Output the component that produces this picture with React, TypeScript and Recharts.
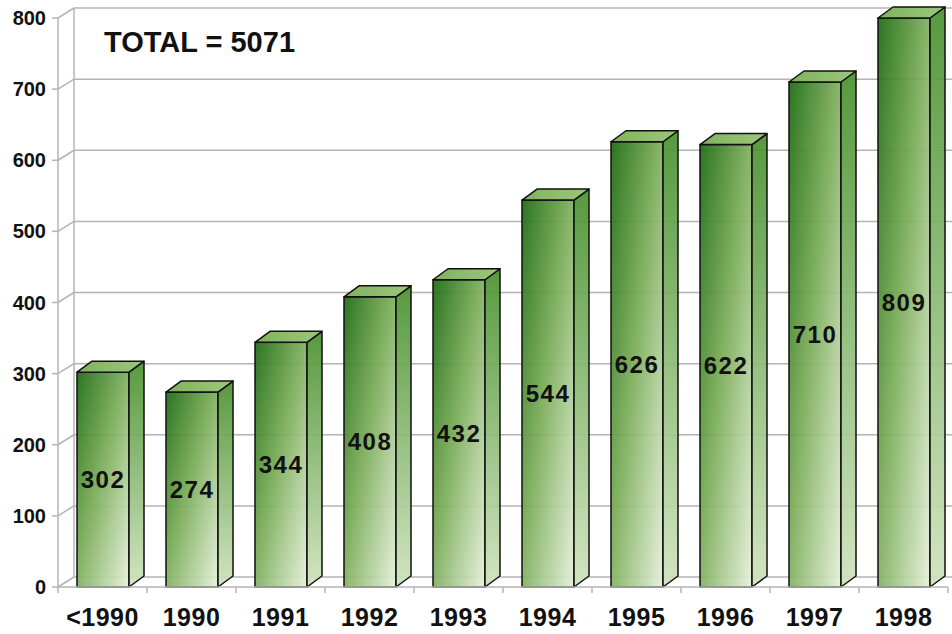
import React from 'react';
import { BarChart, Bar, XAxis, YAxis, CartesianGrid } from 'recharts';

const years = ['<1990', '1990', '1991', '1992', '1993', '1994', '1995', '1996', '1997', '1998'];
const counts = [302, 274, 344, 408, 432, 544, 626, 622, 710, 809];
const yTicks = [0, 100, 200, 300, 400, 500, 600, 700, 800];
const yMax = 800;
const totalLabel = 'TOTAL = 5071';

const data = years.map((year, i) => ({ year, count: counts[i] }));

const W = 952;
const H = 634;
const LEFT = 58;
const RIGHT = 4;
const TOP = 18;
const X_AXIS_H = 47;
const BAND = (W - LEFT - RIGHT) / years.length;
const DX = 15;
const DY = 11;
const WALL_DX = 16;
const WALL_DY = 10;
const GRID = '#b4b4b4';
const FONT = '"Liberation Sans", Arial, sans-serif';

// bars above the axis max are cut at the top like the original chart
const barValue = (d: { count: number }) => Math.min(d.count, yMax);

const Bar3D = (props: any) => {
  const { x, y, width, height, payload } = props;
  const bottom = y + height;
  const top = y;
  const r = x + width;
  return (
    <g>
      <rect x={x} y={top} width={width} height={bottom - top} fill="url(#frontGrad)" fillOpacity={0.93} stroke="#111" strokeWidth={1.5} />
      <polygon
        points={`${r},${top} ${r + DX},${top - DY} ${r + DX},${bottom - DY} ${r},${bottom}`}
        fill="url(#sideGrad)"
        fillOpacity={0.93}
        stroke="#111"
        strokeWidth={1.5}
        strokeLinejoin="round"
      />
      <polygon
        points={`${x},${top} ${x + DX},${top - DY} ${r + DX},${top - DY} ${r},${top}`}
        fill="url(#topGrad)"
        stroke="#111"
        strokeWidth={1.5}
        strokeLinejoin="round"
      />
      <text
        x={x + width / 2}
        y={(top + bottom) / 2}
        textAnchor="middle"
        dominantBaseline="central"
        fontFamily={FONT}
        fontWeight="bold"
        fontSize={24}
        letterSpacing={1.5}
        fill="#111"
      >
        {payload.count}
      </text>
    </g>
  );
};

const HLine = (props: any) => {
  const { x1, y1 } = props;
  return (
    <g key={`h-${y1}`}>
      <line x1={x1} y1={y1} x2={x1 + WALL_DX} y2={y1 - WALL_DY} stroke={GRID} strokeWidth={1.5} />
      <line x1={x1 + WALL_DX} y1={y1 - WALL_DY} x2={W} y2={y1 - WALL_DY} stroke={GRID} strokeWidth={1.5} />
    </g>
  );
};

const VLine = (props: any) => {
  const { x1, y1, y2 } = props;
  return <line key={`v-${x1}`} x1={x1} y1={y1 - WALL_DY} x2={x1} y2={y2 - WALL_DY} stroke={GRID} strokeWidth={1.5} />;
};

const XTick = (props: any) => {
  const { x, payload } = props;
  const base = H - X_AXIS_H;
  return (
    <g>
      {payload.index === 0 && (
        <line x1={x - BAND / 2} y1={base} x2={x - BAND / 2} y2={base + 6} stroke={GRID} strokeWidth={1.5} />
      )}
      <line x1={x + BAND / 2} y1={base} x2={x + BAND / 2} y2={base + 6} stroke={GRID} strokeWidth={1.5} />
      <text
        x={x}
        y={base + 39}
        textAnchor="middle"
        fontFamily={FONT}
        fontWeight="bold"
        fontSize={25}
        letterSpacing={0.5}
        fill="#111"
      >
        {payload.value}
      </text>
    </g>
  );
};

export default function App() {
  return (
    <div style={{ position: 'fixed', left: 0, top: 0, width: W, height: H, background: '#fff' }}>
      <BarChart width={W} height={H} data={data} margin={{ top: TOP, right: RIGHT, bottom: 0, left: 0 }}>
        <defs>
          <linearGradient id="frontGrad" x1="0" y1="0" x2="1" y2="1">
            <stop offset="0%" stopColor="#1d6b12" />
            <stop offset="45%" stopColor="#78ab56" />
            <stop offset="100%" stopColor="#e6f0da" />
          </linearGradient>
          <linearGradient id="sideGrad" x1="0" y1="0" x2="0" y2="1">
            <stop offset="0%" stopColor="#4a9230" />
            <stop offset="100%" stopColor="#cfe3bd" />
          </linearGradient>
          <linearGradient id="topGrad" x1="0" y1="0" x2="1" y2="0">
            <stop offset="0%" stopColor="#7fb35d" />
            <stop offset="100%" stopColor="#9cc77c" />
          </linearGradient>
        </defs>
        <CartesianGrid
          horizontal={HLine}
          vertical={VLine}
          verticalPoints={[LEFT + WALL_DX]}
        />
        <XAxis
          dataKey="year"
          height={X_AXIS_H}
          axisLine={{ stroke: GRID, strokeWidth: 1.5 }}
          tickLine={false}
          tick={XTick}
          interval={0}
        />
        <YAxis
          width={LEFT}
          domain={[0, yMax]}
          ticks={yTicks}
          axisLine={{ stroke: GRID, strokeWidth: 1.5 }}
          tickLine={{ stroke: GRID, strokeWidth: 1.5 }}
          tickSize={6}
          tickMargin={6}
          tick={{ fontFamily: FONT, fontWeight: 'bold', fontSize: 20, fill: '#111' }}
        />
        <Bar dataKey={barValue} barSize={52} shape={Bar3D} isAnimationActive={false} />
      </BarChart>
      <div
        style={{
          position: 'absolute',
          left: 104,
          top: 26,
          fontFamily: FONT,
          fontWeight: 'bold',
          fontSize: 29,
          color: '#111',
        }}
      >
        {totalLabel}
      </div>
    </div>
  );
}
